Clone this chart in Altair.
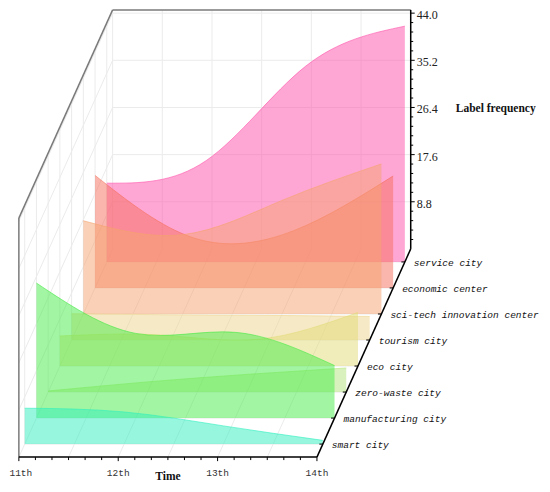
import altair as alt
import pandas as pd

# ---------------- data ----------------
times = ["11th", "12th", "13th", "14th"]
series = ["smart city", "manufacturing city", "zero-waste city", "eco city",
          "tourism city", "sci-tech innovation center", "economic center", "service city"]

smart_city = [6.7, 6.0, 3.4, 0.7]
manufacturing_city = [25.2, 15.8, 16.0, 9.8]
zero_waste_city = [0.2, 1.9, 3.3, 4.5]
eco_city = [5.6, 5.8, 5.0, 10.0]
tourism_city = [4.9, 4.7, 4.6, 4.4]
scitech_center = [17.4, 14.8, 21.2, 28.0]
economic_center = [21.0, 9.3, 10.7, 20.9]
service_city = [14.7, 18.9, 36.5, 44.0]

z_ticks = [8.8, 17.6, 26.4, 35.2, 44.0]
z_labels = ["8.8", "17.6", "26.4", "35.2", "44.0"]
z_top = 44.6

colors = ["#2DF0BE", "#46EB46", "#B4E67C", "#E2DC78",
          "#EED48C", "#F5A46E", "#F56E5A", "#FF50AA"]

all_values = [smart_city, manufacturing_city, zero_waste_city, eco_city,
              tourism_city, scitech_center, economic_center, service_city]

# ---------------- oblique projection parameters ----------------
KX = 0.9437   # horizontal shift of full depth, in time steps
KY = 38.85    # vertical shift of full depth, in frequency units
N = len(series)

xs = alt.Scale(domain=[-0.1093, 5.265], nice=False, zero=False)
ys = alt.Scale(domain=[-5.016, 83.81], nice=False, zero=False)


def P(t, s):
    return f"datum.{t} + datum.{s} * {KX}"


def Q(s, v):
    return f"datum.{v} + datum.{s} * {KY}"


# ---------------- tables ----------------
rows = []
for k, (name, vals) in enumerate(zip(series, all_values)):
    for ti, v in enumerate(vals):
        rows.append({"k": k, "series": name, "t": ti, "s": (k + 0.5) / N, "v": v})
df_area = pd.DataFrame(rows)

seg = []


def add(kind, t1, s1, v1, t2, s2, v2):
    seg.append({"kind": kind, "t1": t1, "s1": s1, "v1": v1, "t2": t2, "s2": s2, "v2": v2})


half_steps = [i * 0.5 for i in range(7)]
centers = [(k + 0.5) / N for k in range(N)]
# back wall
for t in half_steps:
    add("grid", t, 1, 0, t, 1, z_top)
for z in z_ticks:
    add("grid", 0, 1, z, 3, 1, z)
# left wall
for s in centers:
    add("grid", 0, s, 0, 0, s, z_top)
for z in z_ticks:
    add("grid", 0, 0, z, 0, 1, z)
# floor
for t in half_steps:
    add("grid", t, 0, 0, t, 1, 0)
for s in centers:
    add("grid", 0, s, 0, 3, s, 0)
# box edges
add("box", 0, 1, z_top, 3, 1, z_top)
add("box", 0, 0, z_top, 0, 1, z_top)
add("box", 0, 0, 0, 0, 0, z_top)
# axes
add("axis", 0, 0, 0, 3, 0, 0)
add("axis", 3, 0, 0, 3, 1, 0)
add("axis", 3, 1, 0, 3, 1, z_top)
df_seg = pd.DataFrame(seg)

# ticks: x axis (major + minor), depth axis, z axis
tick_rows = []
for i in range(19):
    tick_rows.append({"t": i / 6, "s": 0, "v": 0, "dt": 0, "dv": -0.75 if i % 6 == 0 else -0.55})
for s in centers:
    tick_rows.append({"t": 3, "s": s, "v": 0, "dt": -0.035, "dv": 0})
for i in range(1, 26):
    z = i * 1.76
    tick_rows.append({"t": 3, "s": 1, "v": z, "dt": 0.04 if i % 5 == 0 else 0.025, "dv": 0})
df_ticks = pd.DataFrame(tick_rows)

df_tlab = pd.DataFrame({"t": list(range(4)), "s": 0, "v": 0, "label": times})
df_slab = pd.DataFrame({"t": 3, "s": centers, "v": 0, "label": series})
df_zlab = pd.DataFrame({"t": 3, "s": 1, "v": z_ticks, "label": z_labels})
df_titles = pd.DataFrame({"t": [1.5, 3], "s": [0, 1], "v": [0, 26.4],
                          "label": ["Time", "Label frequency"]})

# ---------------- layers ----------------
def seg_layer(kind, color, width):
    return (alt.Chart(df_seg)
            .transform_filter(alt.datum.kind == kind)
            .transform_calculate(x1=P("t1", "s1"), y1=Q("s1", "v1"),
                                 x2=P("t2", "s2"), y2=Q("s2", "v2"))
            .mark_rule(color=color, strokeWidth=width)
            .encode(x=alt.X("x1:Q", scale=xs, axis=None),
                    y=alt.Y("y1:Q", scale=ys, axis=None),
                    x2="x2:Q", y2="y2:Q"))


layers = [seg_layer("grid", "#ebebeb", 1)]

for k in reversed(range(N)):
    base = (alt.Chart(df_area)
            .transform_filter(alt.datum.k == k)
            .transform_calculate(u=P("t", "s"), w=Q("s", "v"), w0=f"datum.s * {KY}"))
    layers.append(base.mark_area(interpolate="natural", color=colors[k], opacity=0.5)
                  .encode(x=alt.X("u:Q", scale=xs, axis=None),
                          y=alt.Y("w:Q", scale=ys, axis=None),
                          y2="w0:Q"))
    layers.append(base.mark_line(interpolate="natural", color=colors[k], opacity=0.6, strokeWidth=1)
                  .encode(x=alt.X("u:Q", scale=xs, axis=None),
                          y=alt.Y("w:Q", scale=ys, axis=None)))

layers.append(seg_layer("box", "#7a7a7a", 1.5))
layers.append(seg_layer("axis", "#000000", 1.5))

layers.append(alt.Chart(df_ticks)
              .transform_calculate(x1=P("t", "s"), y1=Q("s", "v"),
                                   x2=P("t", "s") + " + datum.dt",
                                   y2=Q("s", "v") + " + datum.dv")
              .mark_rule(color="#000000", strokeWidth=1)
              .encode(x=alt.X("x1:Q", scale=xs, axis=None),
                      y=alt.Y("y1:Q", scale=ys, axis=None),
                      x2="x2:Q", y2="y2:Q"))


def text_layer(df, **kw):
    return (alt.Chart(df)
            .transform_calculate(u=P("t", "s"), w=Q("s", "v"))
            .mark_text(**kw)
            .encode(x=alt.X("u:Q", scale=xs, axis=None),
                    y=alt.Y("w:Q", scale=ys, axis=None),
                    text="label:N"))


layers.append(text_layer(df_tlab.iloc[[0]], font="Liberation Mono", fontSize=9.5, color="#333333",
                         align="center", baseline="middle", dx=2, dy=16))
layers.append(text_layer(df_tlab.iloc[1:], font="Liberation Mono", fontSize=9.5, color="#333333",
                         align="center", baseline="middle", dy=16))
layers.append(text_layer(df_slab, font="Liberation Mono", fontSize=9.5, fontStyle="italic",
                         color="#111111", align="left", baseline="middle", dx=9, dy=1))
layers.append(text_layer(df_zlab, font="Liberation Serif", fontSize=12, color="#222222",
                         align="left", baseline="middle", dx=6, dy=2))
layers.append(text_layer(df_titles.iloc[[0]], font="Liberation Serif", fontSize=11.5,
                         fontWeight="bold", color="#111111", align="center",
                         baseline="middle", dy=20))
layers.append(text_layer(df_titles.iloc[[1]], font="Liberation Serif", fontSize=11.5,
                         fontWeight="bold", color="#111111", align="left",
                         baseline="middle", dx=45, dy=2))

chart = (alt.layer(*layers)
         .properties(width=534, height=476, padding=0,
                     autosize=alt.AutoSizeParams(type="none"))
         .configure_view(stroke=None))

chart.save("out.html", embed_options={"renderer": "svg", "actions": False})
